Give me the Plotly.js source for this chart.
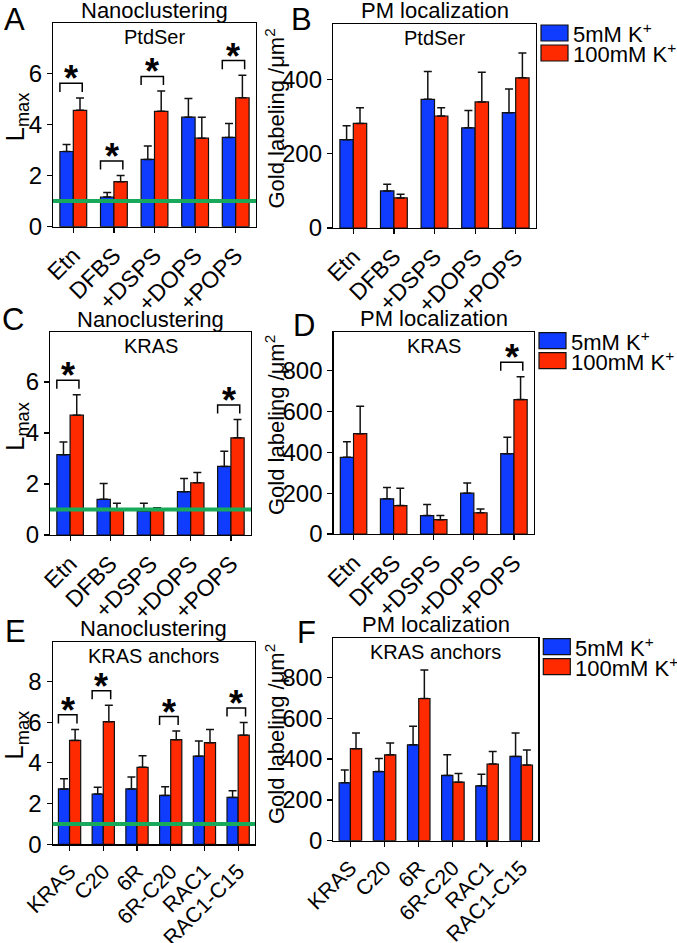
<!DOCTYPE html>
<html><head><meta charset="utf-8">
<script src="https://cdn.plot.ly/plotly-3.0.1.min.js"></script>
<style>html,body{margin:0;padding:0;background:#fff}</style>
</head><body><div id="chart" style="width:677px;height:943px"></div>
<script>
// ---------- data ----------
const lipidCats = ['Etn', 'DFBS', '+DSPS', '+DOPS', '+POPS'];
const anchorCats = ['KRAS', 'C20', '6R', '6R-C20', 'RAC1', 'RAC1-C15'];
const seriesNames = ['5mM K<sup>+</sup>', '100mM K<sup>+</sup>'];
const refLevel = 1;

// A: Nanoclustering, PtdSer (Lmax)
const aLow = [2.94, 1.16, 2.63, 4.28, 3.49];
const aLowErr = [0.27, 0.18, 0.52, 0.73, 0.54];
const aHigh = [4.55, 1.76, 4.51, 3.46, 5.04];
const aHighErr = [0.48, 0.24, 0.79, 0.82, 0.88];
const aSig = [0, 1, 2, 4];

// B: PM localization, PtdSer (gold /um2)
const bLow = [238, 100, 347, 270, 311];
const bLowErr = [38, 18, 75, 47, 64];
const bHigh = [282, 81, 302, 340, 405];
const bHighErr = [42, 10, 22, 80, 67];
const bSig = [];

// C: Nanoclustering, KRAS
const cLow = [3.15, 1.40, 0.95, 1.70, 2.69];
const cLowErr = [0.50, 0.62, 0.30, 0.52, 0.59];
const cHigh = [4.70, 1.02, 0.97, 2.05, 3.81];
const cHighErr = [0.80, 0.23, 0.10, 0.40, 0.72];
const cSig = [0, 4];

// D: PM localization, KRAS
const dLow = [375, 172, 90, 200, 393];
const dLowErr = [77, 55, 54, 50, 80];
const dHigh = [491, 139, 70, 104, 658];
const dHighErr = [134, 85, 20, 18, 111];
const dSig = [4];

// E: Nanoclustering, KRAS anchors
const eLow = [2.72, 2.47, 2.72, 2.40, 4.33, 2.30];
const eLowErr = [0.50, 0.33, 0.59, 0.43, 0.74, 0.33];
const eHigh = [5.10, 6.02, 3.78, 5.14, 4.99, 5.36];
const eHighErr = [0.54, 0.81, 0.57, 0.42, 0.65, 0.62];
const eSig = [0, 1, 3, 5];

// F: PM localization, KRAS anchors
const fLow = [284, 339, 470, 320, 269, 413];
const fLowErr = [62, 64, 91, 101, 57, 115];
const fHigh = [451, 421, 697, 287, 376, 371];
const fHighErr = [77, 58, 140, 42, 61, 74];
const fSig = [];

// ---------- style / layout ----------
const W = 677, H = 943;
const fx = p => p / W, fy = p => 1 - p / H;
const FONT = 'Liberation Sans, Arial, Helvetica, sans-serif';
const BLUE = '#0f3cff', RED = '#ff2a00', GREEN = '#19a95a', INK = '#111111';
const LMAX = 'L<sub>max</sub>';
const GOLD = 'Gold labeling /\u03bcm<sup>2</sup>';
const YTICK = 24;

const panels = [
  {letter:'A', lp:[14,19], title:'Nanoclustering', sub:'PtdSer', cats:lipidCats, xt:23, low:aLow, lowErr:aLowErr, high:aHigh, highErr:aHighErr, sig:aSig, range:[0,7.95], dtick:2, ytitle:LMAX, yt:[16,117.5], ref:true, legend:false, box:[53,256,23.3,226.7]},
  {letter:'B', lp:[301,20], title:'PM localization', sub:'PtdSer', cats:lipidCats, xt:23, low:bLow, lowErr:bLowErr, high:bHigh, highErr:bHighErr, sig:bSig, range:[0,550], dtick:200, ytitle:GOLD, yt:[275,118.5], ref:false, legend:true, box:[333,536,24,228]},
  {letter:'C', lp:[12.5,320], title:'Nanoclustering', sub:'KRAS', cats:lipidCats, xt:23, low:cLow, lowErr:cLowErr, high:cHigh, highErr:cHighErr, sig:cSig, range:[0,7.95], dtick:2, ytitle:LMAX, yt:[16,427], ref:true, legend:false, box:[50,251,332.3,535]},
  {letter:'D', lp:[304,325], title:'PM localization', sub:'KRAS', cats:lipidCats, xt:23, low:dLow, lowErr:dLowErr, high:dHigh, highErr:dHighErr, sig:dSig, range:[0,990], dtick:200, ytitle:GOLD, yt:[275,425], ref:false, legend:true, box:[333.5,534,331.7,534]},
  {letter:'E', lp:[15,631.5], title:'Nanoclustering', sub:'KRAS anchors', cats:anchorCats, xt:21.5, low:eLow, lowErr:eLowErr, high:eHigh, highErr:eHighErr, sig:eSig, range:[0,9.95], dtick:2, ytitle:LMAX, yt:[16,735.7], ref:true, legend:false, box:[52.7,255,641.7,844.3]},
  {letter:'F', lp:[306,632.5], title:'PM localization', sub:'KRAS anchors', cats:anchorCats, xt:21.5, low:fLow, lowErr:fLowErr, high:fHigh, highErr:fHighErr, sig:fSig, range:[0,995], dtick:200, ytitle:GOLD, yt:[275,734], ref:false, legend:true, box:[333.3,538.3,637.7,840.7]}
];

const traces = [];
const annotations = [];
const shapes = [];
const layout = {
  width: W, height: H,
  margin: {l:0, r:0, t:0, b:0},
  paper_bgcolor: '#ffffff', plot_bgcolor: '#ffffff',
  barmode: 'group', bargap: 0.34, bargroupgap: 0,
  showlegend: false,
  font: {family: FONT, color: '#000', size: 22},
  annotations: annotations, shapes: shapes
};

panels.forEach((p, k) => {
  const sfx = k ? String(k + 1) : '';
  const xa = 'x' + sfx, ya = 'y' + sfx;
  const idx = p.cats.map((_, i) => i);
  const span = p.range[1] - p.range[0];
  const [x0, x1, yTop, yBot] = p.box;

  layout['xaxis' + sfx] = {
    domain: [fx(x0), fx(x1)], anchor: ya,
    range: [-0.5, p.cats.length - 0.5],
    tickvals: idx, ticktext: p.cats, tickangle: -45,
    tickfont: {size: p.xt, family: FONT, color: '#000'},
    ticks: 'outside', ticklen: 5, tickwidth: 1.2, tickcolor: '#000',
    showline: true, linecolor: '#000', linewidth: 1.2, mirror: true,
    showgrid: false, zeroline: false, fixedrange: true
  };
  layout['yaxis' + sfx] = {
    domain: [fy(yBot), fy(yTop)], anchor: xa,
    range: p.range, dtick: p.dtick, tick0: 0,
    tickfont: {size: YTICK, family: FONT, color: '#000'},
    ticks: 'outside', ticklen: 5, tickwidth: 1.2, tickcolor: '#000',
    showline: true, linecolor: '#000', linewidth: 1.2, mirror: true,
    showgrid: false, zeroline: false, fixedrange: true
  };

  const mk = (vals, errs, color, name) => ({
    type: 'bar', x: idx, y: vals, name: name, xaxis: xa, yaxis: ya,
    marker: {color: color, line: {color: INK, width: 1.2}},
    error_y: {type: 'data', symmetric: false, array: errs, arrayminus: vals.map(() => 0),
              color: INK, thickness: 1.5, width: 4},
    showlegend: false, hoverinfo: 'skip'
  });
  traces.push(mk(p.low, p.lowErr, BLUE, seriesNames[0]));
  traces.push(mk(p.high, p.highErr, RED, seriesNames[1]));

  // significance brackets
  if (p.sig.length) {
    const bx = [], by = [];
    p.sig.forEach(i => {
      const peak = Math.max(p.low[i] + p.lowErr[i], p.high[i] + p.highErr[i]);
      const top = peak + 0.072 * span;
      const leg = top - 0.042 * span;
      bx.push(i - 0.33, i - 0.33, i + 0.22, i + 0.22, null);
      by.push(leg, top, top, leg, null);
      annotations.push({x: i - 0.055, y: top, xref: xa, yref: ya, text: '<b>*</b>',
        showarrow: false, yanchor: 'bottom', xanchor: 'center', yshift: -18,
        font: {size: 36, family: FONT, color: '#000'}});
    });
    traces.push({type: 'scatter', mode: 'lines', x: bx, y: by, xaxis: xa, yaxis: ya,
      line: {color: '#000', width: 1.5}, showlegend: false, hoverinfo: 'skip', connectgaps: false});
  }

  // reference line at Lmax = 1
  if (p.ref) {
    shapes.push({type: 'line', xref: xa + ' domain', yref: ya, x0: 0, x1: 1, y0: refLevel, y1: refLevel,
      line: {color: GREEN, width: 4}, layer: 'above'});
  }

  // panel letter
  annotations.push({xref: 'paper', yref: 'paper', x: fx(p.lp[0]), y: fy(p.lp[1]), text: p.letter,
    showarrow: false, xanchor: 'center', yanchor: 'middle', font: {size: 31, family: FONT, color: '#000'}});
  // title above box
  annotations.push({xref: xa + ' domain', yref: ya + ' domain', x: 0.5, y: 1, yshift: 13, text: p.title,
    showarrow: false, xanchor: 'center', yanchor: 'middle', font: {size: 22, family: FONT, color: '#000'}});
  // subtitle inside box
  annotations.push({xref: xa + ' domain', yref: ya + ' domain', x: 0.5, y: 1, yshift: -14, text: p.sub,
    showarrow: false, xanchor: 'center', yanchor: 'middle', font: {size: 20, family: FONT, color: '#000'}});
  // y axis title
  annotations.push({xref: 'paper', yref: 'paper', x: fx(p.yt[0]), y: fy(p.yt[1]), text: p.ytitle,
    textangle: -90, showarrow: false, xanchor: 'center', yanchor: 'middle',
    font: {size: p.ytitle === LMAX ? 26 : 22, family: FONT, color: '#000'}});

  // legend keys
  if (p.legend) {
    [BLUE, RED].forEach((c, j) => {
      shapes.push({type: 'rect', xref: xa + ' domain', yref: ya + ' domain',
        xsizemode: 'pixel', ysizemode: 'pixel', xanchor: 1, yanchor: 1,
        x0: 5, x1: 32, y0: -1 - j * 20, y1: -17 - j * 20,
        fillcolor: c, line: {color: INK, width: 1.2}, layer: 'above'});
      annotations.push({xref: xa + ' domain', yref: ya + ' domain', x: 1, y: 1,
        xshift: 35, yshift: -9 - j * 20, xanchor: 'left', yanchor: 'middle', showarrow: false,
        text: seriesNames[j], font: {size: 22, family: FONT, color: '#000'}});
    });
  }
});

Plotly.newPlot('chart', traces, layout, {displayModeBar: false, staticPlot: true});
</script>
</body></html>
